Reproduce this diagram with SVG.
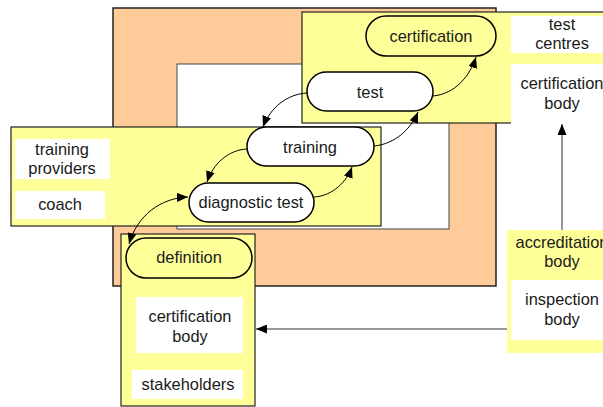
<svg xmlns="http://www.w3.org/2000/svg" width="603" height="407" viewBox="0 0 603 407">
  <defs>
    <marker id="arrow" viewBox="0 0 10 10" refX="10" refY="5" markerWidth="11" markerHeight="9" markerUnits="userSpaceOnUse" orient="auto-start-reverse" preserveAspectRatio="none">
      <path d="M0,0 L10,5 L0,10 z" fill="#000"/>
    </marker>
    <style>
      .frame { fill: #ffcc99; stroke: #222; stroke-width: 1.5; }
      .hole { fill: #fff; stroke: #444; stroke-width: 1; }
      .zone { fill: #ffff99; stroke: #222; stroke-width: 1.2; }
      .zone-open { fill: #ffff99; stroke: none; }
      .label-box { fill: #fff; stroke: none; }
      .pill { fill: #fff; stroke: #000; stroke-width: 1.5; }
      .pill-y { fill: #ffff99; stroke: #000; stroke-width: 1.5; }
      text { font-family: "Liberation Sans", Arial, sans-serif; font-size: 16.4px; fill: #1a1a1a; text-anchor: middle; dominant-baseline: central; }
      .conn { fill: none; stroke: #000; stroke-width: 1; }
      .conn-g { fill: none; stroke: #333; stroke-width: 1; }
    </style>
  </defs>

  <!-- background frame -->
  <g id="frame">
    <rect class="frame" x="113" y="8" width="383" height="278"/>
    <rect class="hole" x="177" y="64" width="272" height="165"/>
  </g>

  <!-- certification zone (top right) -->
  <g id="zone-certification">
    <rect class="zone" x="302" y="12" width="320" height="111"/>
    <rect class="label-box" x="511" y="16" width="100" height="37"/>
    <text x="562" y="24">test</text>
    <text x="562" y="43">centres</text>
    <rect class="label-box" x="511" y="64" width="100" height="60"/>
    <text x="562" y="83">certification</text>
    <text x="562" y="103">body</text>
  </g>

  <!-- training zone (left) -->
  <g id="zone-training">
    <rect class="zone" x="11" y="127" width="370" height="99"/>
    <rect class="label-box" x="15" y="139" width="95" height="40"/>
    <text x="62" y="149">training</text>
    <text x="62" y="168">providers</text>
    <rect class="label-box" x="15" y="191" width="90" height="28"/>
    <text x="60" y="204">coach</text>
  </g>

  <!-- definition zone (bottom) -->
  <g id="zone-definition">
    <rect class="zone" x="121" y="234" width="134" height="172"/>
    <rect class="label-box" x="136" y="297" width="107" height="56"/>
    <text x="190" y="316">certification</text>
    <text x="190" y="336">body</text>
    <rect class="label-box" x="132" y="370" width="111" height="29"/>
    <text x="188" y="384">stakeholders</text>
  </g>

  <!-- accreditation zone (right) -->
  <g id="zone-accreditation">
    <rect class="zone-open" x="507" y="230" width="110" height="123"/>
    <text x="562" y="242">accreditation</text>
    <text x="562" y="261">body</text>
    <rect class="label-box" x="511" y="280" width="100" height="60"/>
    <text x="562" y="299">inspection</text>
    <text x="562" y="319">body</text>
  </g>

  <!-- process steps -->
  <g id="node-certification">
    <rect class="pill-y" x="366" y="16" width="130" height="40" rx="20" ry="20"/>
    <text x="431" y="36">certification</text>
  </g>
  <g id="node-test">
    <rect class="pill" x="307" y="72" width="126" height="39" rx="19.5" ry="19.5"/>
    <text x="370" y="92">test</text>
  </g>
  <g id="node-training">
    <rect class="pill" x="247" y="127" width="127" height="39" rx="19.5" ry="19.5"/>
    <text x="310" y="147">training</text>
  </g>
  <g id="node-diagnostic">
    <rect class="pill" x="189" y="183" width="125" height="39" rx="19.5" ry="19.5"/>
    <text x="251" y="202">diagnostic test</text>
  </g>
  <g id="node-definition">
    <rect class="pill-y" x="126" y="238" width="126" height="40" rx="20" ry="20"/>
    <text x="189" y="257">definition</text>
  </g>

  <!-- connectors -->
  <g id="connectors">
    <path class="conn" d="M307,93 C287,94 270,108 263,127" marker-end="url(#arrow)"/>
    <path class="conn" d="M247,149 C228,150 213,164 207,182" marker-end="url(#arrow)"/>
    <path class="conn" d="M314,197 C333,196 347,181 352,167" marker-end="url(#arrow)"/>
    <path class="conn" d="M374,146 C395,144 411,129 418,112" marker-end="url(#arrow)"/>
    <path class="conn" d="M433,96 C455,94 470,76 476,57" marker-end="url(#arrow)"/>
    <path class="conn" d="M188,197 C160,198 137,216 129,244" marker-start="url(#arrow)" marker-end="url(#arrow)"/>
    <path class="conn-g" d="M562,230 L562,124" marker-end="url(#arrow)"/>
    <path class="conn-g" d="M507,329 L256,329" marker-end="url(#arrow)"/>
  </g>
</svg>
